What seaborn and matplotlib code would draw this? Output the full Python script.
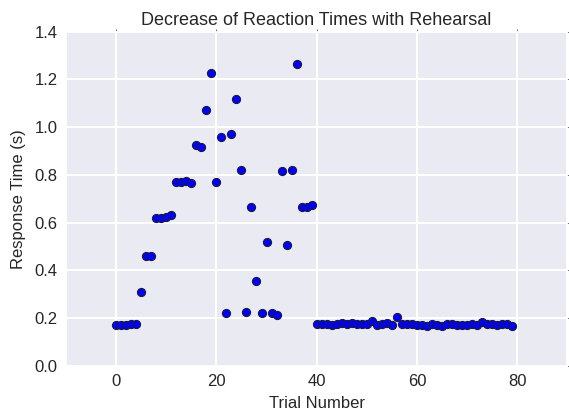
import matplotlib
matplotlib.use("Agg")
import matplotlib.pyplot as plt
import seaborn as sns
import numpy as np
import pandas as pd

trials = list(range(80))
response_times = [
    0.17, 0.17, 0.17, 0.175, 0.175, 0.31, 0.46, 0.46, 0.62, 0.62,
    0.625, 0.63, 0.77, 0.77, 0.775, 0.765, 0.925, 0.915, 1.07, 1.225,
    0.77, 0.96, 0.22, 0.97, 1.12, 0.82, 0.225, 0.665, 0.355, 0.22,
    0.52, 0.22, 0.215, 0.815, 0.505, 0.82, 1.265, 0.665, 0.665, 0.675,
    0.175, 0.175, 0.175, 0.17, 0.175, 0.18, 0.175, 0.18, 0.175, 0.175,
    0.175, 0.19, 0.17, 0.175, 0.18, 0.17, 0.205, 0.175, 0.175, 0.175,
    0.17, 0.17, 0.165, 0.175, 0.17, 0.167, 0.175, 0.175, 0.172, 0.172,
    0.172, 0.175, 0.172, 0.183, 0.175, 0.175, 0.172, 0.175, 0.175, 0.168,
]
x_ticks = [0, 20, 40, 60, 80]
y_ticks = [0.0, 0.2, 0.4, 0.6, 0.8, 1.0, 1.2, 1.4]

df = pd.DataFrame({"Trial Number": trials, "Response Time (s)": response_times})

sns.set_theme(style="darkgrid", rc={"grid.linewidth": 1.5})
plt.rcParams['font.family'] = ['Liberation Sans', 'DejaVu Sans']

fig = plt.figure(figsize=(5.69, 4.12), dpi=100)
ax = fig.add_axes([0.116, 0.112, 0.881, 0.811])
sns.scatterplot(data=df, x="Trial Number", y="Response Time (s)", ax=ax,
                color="#0000ff", edgecolor="#1a1a3a", linewidth=0.8, s=34, zorder=3)
ax.set_xlim(-10, 90)
ax.set_ylim(0, 1.4)
ax.set_xticks(x_ticks)
ax.set_yticks(y_ticks)
ax.set_yticklabels([f"{v:.1f}" for v in y_ticks])
ax.tick_params(direction='out', length=2, width=0.6, color='#555555',
               top=True, right=True, labelsize=12, labelcolor='#262626', pad=4)
ax.set_xlabel("Trial Number", fontsize=12, color='#262626', labelpad=5)
ax.set_ylabel("Response Time (s)", fontsize=12, color='#262626', labelpad=6)
ax.set_title("Decrease of Reaction Times with Rehearsal", fontsize=13, color='#262626', pad=5)
fig.savefig("out.png", dpi=100)
